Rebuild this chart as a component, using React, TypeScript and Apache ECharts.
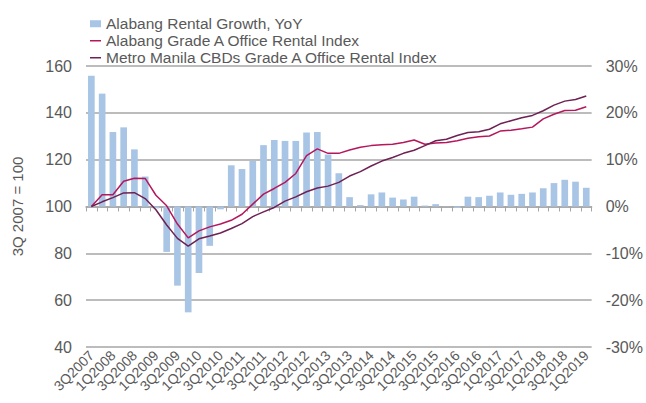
import React, { useEffect, useRef } from "react";
import * as echarts from "echarts";

const categories = [
  "3Q2007", "4Q2007",
  "1Q2008", "2Q2008", "3Q2008", "4Q2008",
  "1Q2009", "2Q2009", "3Q2009", "4Q2009",
  "1Q2010", "2Q2010", "3Q2010", "4Q2010",
  "1Q2011", "2Q2011", "3Q2011", "4Q2011",
  "1Q2012", "2Q2012", "3Q2012", "4Q2012",
  "1Q2013", "2Q2013", "3Q2013", "4Q2013",
  "1Q2014", "2Q2014", "3Q2014", "4Q2014",
  "1Q2015", "2Q2015", "3Q2015", "4Q2015",
  "1Q2016", "2Q2016", "3Q2016", "4Q2016",
  "1Q2017", "2Q2017", "3Q2017", "4Q2017",
  "1Q2018", "2Q2018", "3Q2018", "4Q2018",
  "1Q2019",
];

const growthYoY = [
  27.9, 24.1, 15.9, 16.9, 12.2, 6.4, -0.4, -9.7, -16.9, -22.6,
  -14.2, -8.4, -0.6, 8.8, 8.0, 9.7, 13.1, 14.2, 14.0, 14.0,
  15.8, 15.9, 11.1, 7.1, 2.0, 0.3, 2.6, 3.0, 1.9, 1.5,
  2.1, 0.2, 0.5, 0.05, -0.3, 2.1, 2.0, 2.3, 3.0, 2.5,
  2.7, 3.0, 3.9, 5.0, 5.7, 5.3, 4.0,
];

const alabangIndex = [
  100, 105.0, 105.0, 110.8, 112.1, 112.0, 104.8, 100.3, 92.5, 86.6,
  89.6, 91.3, 92.5, 94.1, 96.7, 101.0, 105.3, 107.7, 110.3, 114.1,
  121.7, 124.6, 122.7, 122.7, 124.1, 125.3, 126.0, 126.4, 126.6, 127.3,
  128.4, 126.6, 127.1, 127.3, 128.1, 129.1, 129.8, 130.1, 132.2, 132.6,
  133.2, 133.9, 137.4, 139.4, 141.0, 141.1, 142.6,
];

const metroManilaIndex = [
  100, 102.0, 103.8, 105.8, 105.9, 103.4, 98.6, 92.1, 86.4, 83.1,
  86.2, 87.4, 88.7, 90.6, 92.7, 95.7, 97.7, 99.6, 102.3, 104.1,
  106.3, 107.9, 108.7, 110.3, 113.0, 114.9, 117.3, 119.4, 120.9, 122.7,
  124.0, 126.0, 128.1, 128.7, 130.3, 131.6, 131.9, 133.0, 135.3, 136.6,
  137.9, 138.9, 140.9, 143.3, 145.0, 145.7, 147.2,
];

const seriesNames = [
  "Alabang Rental Growth, YoY",
  "Alabang Grade A Office Rental Index",
  "Metro Manila CBDs Grade A Office Rental Index",
];

const FONT = "Liberation Sans, Arial, Helvetica, sans-serif";
const TEXT = "#595959";
const GRID = "#A6A6A6";

export default function App() {
  const ref = useRef<HTMLDivElement>(null);

  useEffect(() => {
    if (!ref.current) return;
    const chart = echarts.init(ref.current, undefined, { renderer: "svg" });
    const lineIcon = "path://M0,0 L22,0 L22,3 L0,3 Z";
    chart.setOption({
      animation: false,
      textStyle: { fontFamily: FONT },
      grid: { left: 86, right: 53, top: 66, bottom: 56, containLabel: false },
      legend: {
        orient: "vertical",
        left: 85,
        top: 10,
        itemWidth: 11,
        itemHeight: 7,
        itemGap: -0.5,
        textStyle: { fontSize: 15.5, lineHeight: 17.5, color: TEXT, fontFamily: FONT },
        data: [
          { name: seriesNames[0], icon: "rect" },
          { name: seriesNames[1], icon: lineIcon },
          { name: seriesNames[2], icon: lineIcon },
        ],
      },
      xAxis: {
        type: "category",
        data: categories,
        boundaryGap: true,
        axisLine: { show: true, lineStyle: { color: GRID, width: 1.5 } },
        axisTick: { show: true, interval: 0, length: 5, lineStyle: { color: GRID, width: 1 } },
        axisLabel: {
          interval: 1,
          rotate: 45,
          fontSize: 14,
          color: TEXT,
          margin: 6,
          fontFamily: FONT,
        },
      },
      yAxis: [
        {
          type: "value",
          min: 40,
          max: 160,
          interval: 20,
          name: "3Q 2007 = 100",
          nameLocation: "middle",
          nameGap: 61,
          nameTextStyle: { fontSize: 15, color: TEXT, fontFamily: FONT },
          axisLine: { show: false },
          axisTick: { show: false },
          axisLabel: { fontSize: 16, color: TEXT, margin: 14, fontFamily: FONT },
          splitLine: { show: true, lineStyle: { color: GRID, width: 1.5 } },
        },
        {
          type: "value",
          min: -30,
          max: 30,
          interval: 10,
          axisLine: { show: false },
          axisTick: { show: false },
          axisLabel: {
            fontSize: 16,
            color: TEXT,
            margin: 14,
            fontFamily: FONT,
            formatter: "{value}%",
          },
          splitLine: { show: false },
        },
      ],
      series: [
        {
          name: seriesNames[0],
          type: "bar",
          yAxisIndex: 1,
          data: growthYoY,
          barWidth: "62%",
          itemStyle: { color: "#A9C5E5" },
        },
        {
          name: seriesNames[1],
          type: "line",
          yAxisIndex: 0,
          data: alabangIndex,
          showSymbol: false,
          symbol: "none",
          lineStyle: { color: "#B5175C", width: 1.5 },
          itemStyle: { color: "#B5175C" },
          z: 3,
        },
        {
          name: seriesNames[2],
          type: "line",
          yAxisIndex: 0,
          data: metroManilaIndex,
          showSymbol: false,
          symbol: "none",
          lineStyle: { color: "#6E2152", width: 1.5 },
          itemStyle: { color: "#6E2152" },
          z: 4,
        },
      ],
    });
    return () => chart.dispose();
  }, []);

  return (
    <div
      ref={ref}
      style={{ position: "fixed", left: 0, top: 0, width: 646, height: 403, background: "#fff" }}
    />
  );
}
